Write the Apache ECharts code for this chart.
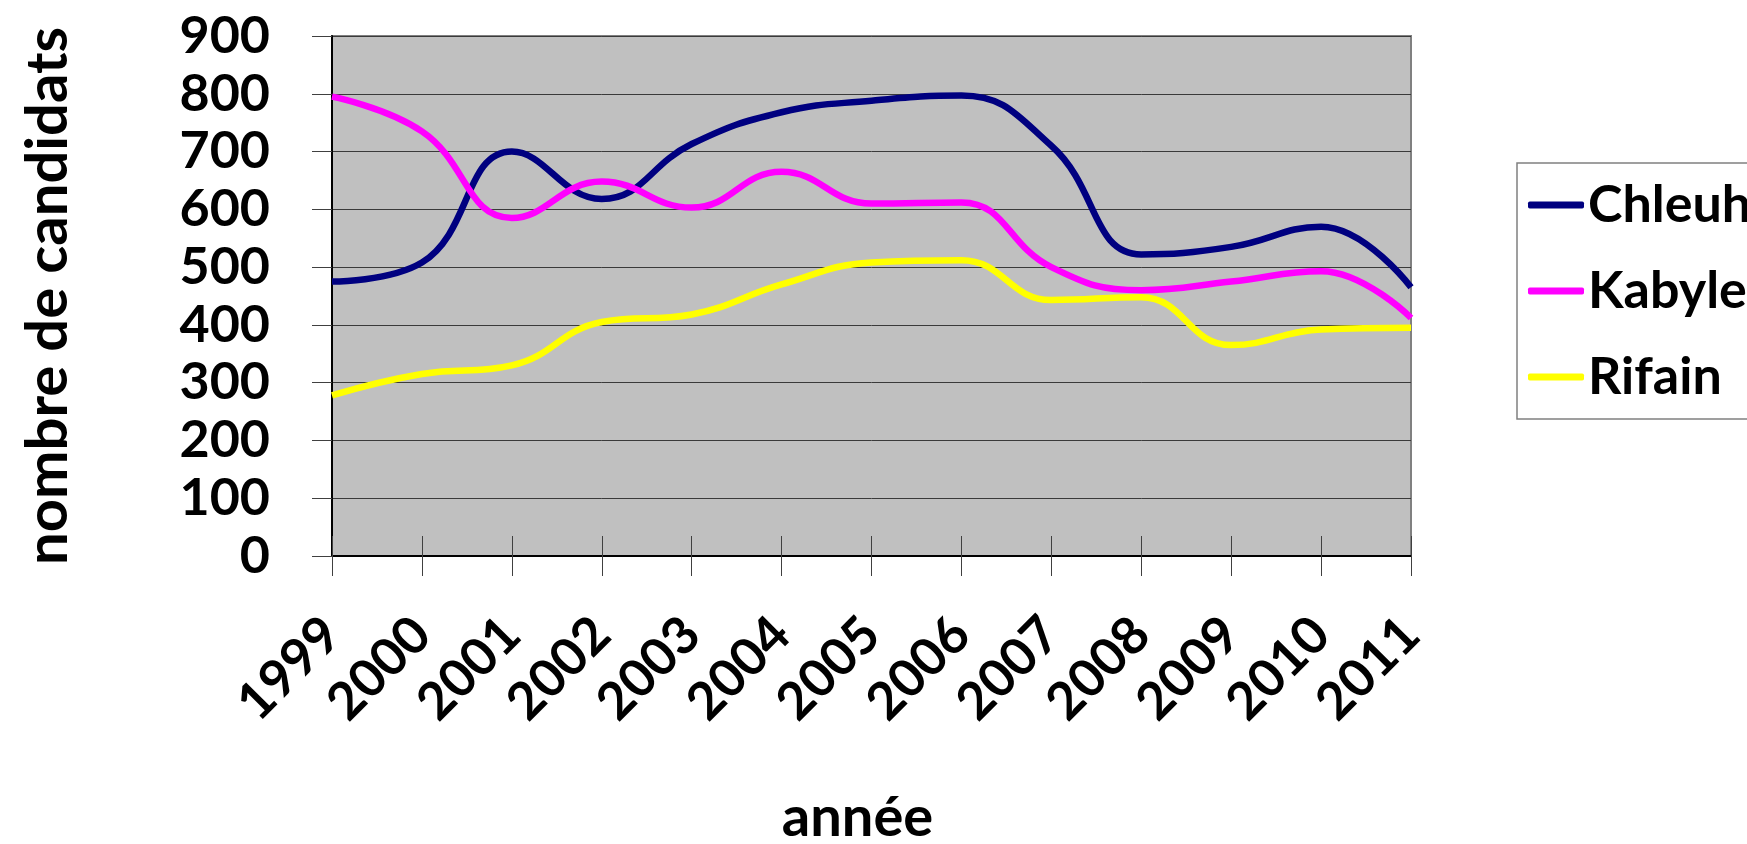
<!DOCTYPE html>
<html>
<head>
<meta charset="utf-8">
<script src="https://cdn.jsdelivr.net/npm/echarts@6/dist/echarts.min.js"></script>
<style>
  html, body { margin: 0; padding: 0; background: #fff; }
  #chart { width: 1747px; height: 844px; }
</style>
</head>
<body>
<div id="chart"></div>
<script>
// données
var annees = ['1999','2000','2001','2002','2003','2004','2005','2006','2007','2008','2009','2010','2011'];
var chleuh = [475, 508, 700, 618, 713, 768, 788, 797, 710, 522, 535, 570, 465];
var kabyle = [795, 735, 585, 648, 603, 665, 610, 612, 500, 460, 475, 493, 412];
var rifain = [278, 315, 330, 405, 418, 470, 508, 512, 443, 448, 365, 392, 395];
var yTicks = [0, 100, 200, 300, 400, 500, 600, 700, 800, 900];

var police = 'Lato';
var chart = echarts.init(document.getElementById('chart'));

function serie(nom, data, couleur) {
  return {
    name: nom,
    type: 'line',
    data: data,
    smooth: 0.45,
    showSymbol: false,
    symbol: 'none',
    lineStyle: { color: couleur, width: 6.5 },
    itemStyle: { color: couleur }
  };
}

var option = {
  animation: false,
  textStyle: { fontFamily: police, fontWeight: 'bold', color: '#000' },
  grid: {
    left: 332, right: 336, top: 36, bottom: 288,
    outerBoundsMode: 'none',
    containLabel: false,
    show: true,
    backgroundColor: '#C0C0C0',
    borderColor: '#808080',
    borderWidth: 2
  },
  legend: {
    orient: 'vertical',
    left: 1517,
    top: 163,
    padding: [12, 12, 12, 11],
    borderColor: '#808080',
    borderWidth: 1.5,
    itemWidth: 56,
    itemHeight: 7,
    itemGap: 26,
    icon: 'roundRect',
    textStyle: {
      fontFamily: police, fontWeight: 'bold', fontSize: 52,
      lineHeight: 60, color: '#000', padding: [0, 0, 0, -1]
    },
    data: ['Chleuh', 'Kabyle', 'Rifain']
  },
  xAxis: [{
    type: 'category',
    data: annees,
    boundaryGap: false,
    name: 'année',
    nameLocation: 'middle',
    nameGap: 234,
    nameMoveOverlap: false,
    nameTextStyle: {
      fontFamily: police, fontWeight: 'bold', fontSize: 56, color: '#000',
      padding: [0, 28, 0, 0]
    },
    axisLine: { lineStyle: { color: '#000', width: 2 } },
    axisTick: { show: true, inside: false, length: 20, lineStyle: { color: '#404040' } },
    axisLabel: {
      rotate: 45, margin: 70, interval: 0,
      fontFamily: police, fontWeight: 'bold', fontSize: 52, color: '#000'
    },
    splitLine: { show: false }
  }, {
    // traits de graduation côté intérieur (graduations croisées)
    type: 'category',
    data: annees,
    boundaryGap: false,
    position: 'bottom',
    axisLine: { show: false },
    axisTick: { show: true, inside: true, length: 20, lineStyle: { color: '#404040' } },
    axisLabel: { show: false },
    splitLine: { show: false }
  }],
  yAxis: {
    type: 'value',
    min: yTicks[0],
    max: yTicks[yTicks.length - 1],
    interval: 100,
    name: 'nombre de candidats',
    nameLocation: 'middle',
    nameGap: 255,
    nameMoveOverlap: false,
    nameTextStyle: { fontFamily: police, fontWeight: 'bold', fontSize: 58, color: '#000' },
    axisLine: { show: true, lineStyle: { color: '#000', width: 2 } },
    axisTick: { show: true, length: 20, lineStyle: { color: '#404040' } },
    axisLabel: {
      margin: 62,
      fontFamily: police, fontWeight: 'bold', fontSize: 52, color: '#000'
    },
    splitLine: { show: true, lineStyle: { color: '#3a3a3a', width: 1 } }
  },
  series: [
    serie('Chleuh', chleuh, '#000080'),
    serie('Kabyle', kabyle, '#FF00FF'),
    serie('Rifain', rifain, '#FFFF00')
  ]
};

chart.setOption(option);
</script>
</body>
</html>
